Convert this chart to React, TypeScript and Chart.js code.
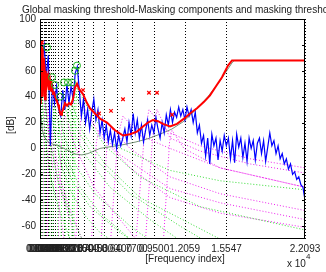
import React, { useEffect, useRef } from "react";
import { Chart, registerables } from "chart.js";
Chart.register(...registerables);

const X_MAX = 22093;
const Y_MIN = -70;
const Y_MAX = 100;
const X_TICKS = [0, 100, 200, 300, 400, 510, 630, 770, 920, 1080, 1270, 1480, 1720, 2000, 2320, 2700, 3150, 3700, 4400, 5300, 6400, 7700, 9500, 12059, 15547, 22093];
const Y_TICKS = [-60, -40, -20, 0, 20, 40, 60, 80, 100];

// spectrum (dB) at evenly spaced frequency bins 0..X_MAX
const BLUE_DB = [
  35, 70, 80, 55, 72, 2, 50, 35, 48, 30, 25, 45, 30, 50, 35, 48, 38, 58, 63, 45,
  25, 38, 20, 30, 15, 28, 38, 22, 30, 12, 22, 8, 18, 5, 14, 3, 12, 0, 10, 2, 8,
  15, 5, 20, 10, 27, 12, 22, 8, 18, 5, 14, 22, 10, 18, 12, 24, 15, 8, 20, 12, 26, 18, 30, 20,
  28, 24, 32, 25, 30, 22, 32, 25, 30, 20, 28, 12, 18, 4, 10, -6, 8, -12, 11, 2, 8, -9, 6, -2,
  10, 2, 8, -8, 6, -11, 11, 1, 8, -7, 4, -10, 8, 0, 6, -9, 4, 8, -4, 6, -10, 1, 12, 2, 6,
  -4, 2, -8, -4, -12, -8, -16, -12, -20, -18, -24, -22, -28, -30, -40,
];

// global masking threshold
const RED_FREQ = [0, 40, 83, 125, 167, 208, 250, 292, 333, 375, 417, 458, 500, 542, 584, 667, 750, 834, 917, 1000, 1084, 1167, 1251, 1334, 1417, 1501, 1584, 1667, 1751, 1834, 1918, 2084, 2251, 2418, 2584, 2751, 2918, 3085, 3252, 3585, 3919, 4169, 4585, 5002, 5586, 6253, 6920, 7503, 8087, 8587, 9004, 9421, 9838, 10254, 10838, 11422, 12006, 12506, 13089, 13673, 14173, 14673, 15173, 15673, 16007, 22093];
const RED_DB = [35, 60, 45, 82, 50, 78, 40, 70, 45, 65, 38, 60, 42, 58, 50, 55, 45, 52, 44, 48, 42, 44, 40, 38, 36, 34, 31, 28, 26, 28, 30, 35, 33, 35, 34, 38, 47, 50, 46, 42, 35, 31, 27, 23, 20, 14, 10, 11, 13, 17, 20, 22, 21, 19, 17, 19, 23, 27, 31, 36, 41, 48, 55, 64, 68, 68];

// absolute threshold of hearing
const ATH_FREQ = [86, 172, 344, 688, 1000, 1500, 2000, 2500, 3000, 3500, 4000, 5000, 6000, 7000, 8000, 9000, 10000, 11000, 12000, 13000, 14000, 15000, 16000, 16200, 22093];
const ATH_DB = [25, 15, 9, 5, 3.5, 2, 0, -2.5, -4.5, -5, -4, 0, 1.5, 3, 5, 7.5, 11, 15, 21, 30, 40, 52, 66, 68, 68];

// tonal maskers (o) and non-tonal maskers (x)
const TONAL_FREQ = [584, 1000, 1251, 1667, 2001, 2334, 2668, 2918, 3085];
const TONAL_DB = [78, 55, 49, 40, 51, 51, 51, 60, 64];
const NONTONAL_FREQ = [167, 3585, 4919, 5919, 6920, 9087, 9754, 11005];
const NONTONAL_DB = [82, 45, 27, 29, 38, 43, 43, 26];

// individual masking thresholds of tonal components [freq, dB]
const TONAL_CURVES = [
  [[0, -70], [83, 50], [167, 40], [417, 10], [834, -20], [1501, -45], [2500, -70]],
  [[150, -70], [250, 55], [417, 35], [834, 5], [1501, -25], [2500, -50], [3500, -70]],
  [[350, -70], [500, 45], [584, 58], [834, 35], [1251, 10], [1834, -15], [2668, -35], [3752, -52], [5002, -65], [5800, -70]],
  [[800, -70], [920, 25], [1000, 38], [1251, 20], [1834, -5], [2668, -25], [4169, -45], [6670, -65], [7500, -70]],
  [[1050, -70], [1180, 20], [1251, 32], [1667, 12], [2334, -10], [3335, -30], [5002, -50], [7503, -70]],
  [[1450, -70], [1600, 12], [1667, 22], [2168, 5], [3085, -15], [4585, -35], [7503, -60], [9000, -70]],
  [[1750, -70], [1920, 22], [2001, 34], [2668, 15], [3752, -5], [5836, -30], [9171, -55], [11500, -70]],
  [[2100, -70], [2260, 22], [2334, 34], [3085, 15], [4585, -8], [7503, -35], [11672, -60], [13500, -70]],
  [[2400, -70], [2590, 22], [2668, 34], [3585, 12], [5419, -12], [8337, -38], [13339, -62], [15000, -70]],
  [[2650, -70], [2850, 30], [2918, 43], [3752, 25], [5419, 2], [8337, -22], [13339, -45], [22093, -63]],
  [[2800, -70], [3000, 35], [3085, 47], [4169, 28], [6253, 2], [10838, -17], [15007, -25], [22093, -32]],
];

// individual masking thresholds of non-tonal components [freq, dB]
const NONTONAL_CURVES = [
  [[0, 60], [167, 68], [500, 30], [1000, -10], [1500, -40], [2000, -70]],
  [[250, -70], [350, 30], [417, 45], [834, 10], [1500, -25], [2334, -50], [3000, -70]],
  [[600, -70], [700, 25], [770, 30], [1100, 5], [1700, -25], [2600, -50], [3500, -70]],
  [[1500, -70], [1834, 20], [2100, 25], [3000, 0], [4500, -30], [6670, -55], [8000, -70]],
  [[3000, -70], [3400, 25], [3585, 33], [5002, 10], [7503, -15], [10838, -38], [15007, -50], [22093, -61]],
  [[4300, -70], [4700, 5], [4919, 14], [6670, -5], [10838, -31], [15007, -42], [22093, -55]],
  [[5100, -70], [5600, 5], [5919, 16], [7503, 0], [10838, -22], [15007, -35], [22093, -48]],
  [[5900, -70], [6500, 10], [6920, 25], [8337, 10], [10838, 0], [15007, -15], [22093, -30]],
  [[8000, -70], [8700, 10], [9087, 30], [9754, 22], [10838, 12], [13339, 2], [17508, -8], [22093, -15]],
  [[8800, -70], [9400, 10], [9754, 30], [10838, 8], [13339, -2], [17508, -12], [22093, -19]],
  [[10300, -70], [10800, 5], [11005, 14], [12000, 0], [15007, -15], [22093, -30]],
];

const TITLE = "Global masking threshold-Masking components and masking thresholds";
const X_LABEL = "[Frequency index]";
const Y_LABEL = "[dB]";
const FONT = "'Liberation Sans', Arial, sans-serif";

const xy = (xs: number[], ys: number[]) => xs.map((x, i) => ({ x, y: ys[i] }));
const pairs = (p: number[][]) => p.map(([x, y]) => ({ x, y }));

const decor = {
  id: "decor",
  beforeDraw(chart: any) {
    const { ctx, width, height } = chart;
    ctx.save();
    ctx.fillStyle = "#fff";
    ctx.fillRect(0, 0, width, height);
    ctx.restore();
  },
  beforeDatasetsDraw(chart: any) {
    const { ctx, chartArea: a, scales } = chart;
    ctx.save();
    ctx.strokeStyle = "#000";
    ctx.lineWidth = 1;
    ctx.setLineDash([1, 2]);
    for (const t of X_TICKS) {
      const px = Math.round(scales.x.getPixelForValue(t)) + 0.5;
      ctx.beginPath();
      ctx.moveTo(px, a.top);
      ctx.lineTo(px, a.bottom);
      ctx.stroke();
    }
    ctx.restore();
  },
  afterDatasetsDraw(chart: any) {
    const { ctx, chartArea: a, scales } = chart;
    ctx.save();
    ctx.strokeStyle = "#000";
    ctx.lineWidth = 1;
    ctx.strokeRect(Math.round(a.left) + 0.5, Math.round(a.top) + 0.5, Math.round(a.right - a.left) - 1, Math.round(a.bottom - a.top) - 1);
    for (const t of Y_TICKS) {
      const py = Math.round(scales.y.getPixelForValue(t)) + 0.5;
      ctx.beginPath();
      ctx.moveTo(a.left, py);
      ctx.lineTo(a.left + 3, py);
      ctx.moveTo(a.right, py);
      ctx.lineTo(a.right - 3, py);
      ctx.stroke();
    }
    ctx.fillStyle = "#222";
    ctx.font = `10px ${FONT}`;
    ctx.textBaseline = "alphabetic";
    ctx.textAlign = "left";
    ctx.fillText(TITLE, 22, 13);
    ctx.textAlign = "center";
    ctx.textBaseline = "middle";
    ctx.fillText(X_LABEL, 185, 259);
    ctx.textAlign = "left";
    ctx.fillText("x 10", 287, 264);
    ctx.font = `8px ${FONT}`;
    ctx.fillText("4", 306, 257);
    ctx.font = `10px ${FONT}`;
    ctx.translate(11, 125);
    ctx.rotate(-Math.PI / 2);
    ctx.textAlign = "center";
    ctx.fillText(Y_LABEL, 0, 0);
    ctx.restore();
  },
};

export default function App() {
  const ref = useRef<HTMLCanvasElement>(null);
  useEffect(() => {
    const blueX = BLUE_DB.map((_, i) => (i * X_MAX) / (BLUE_DB.length - 1));
    const datasets: any[] = [
      {
        data: xy(NONTONAL_FREQ, NONTONAL_DB),
        showLine: false,
        pointStyle: "crossRot",
        pointRadius: 2.5,
        borderColor: "#ff0000",
        borderWidth: 1.2,
        order: 0,
      },
      {
        data: xy(TONAL_FREQ, TONAL_DB),
        showLine: false,
        pointStyle: "circle",
        pointRadius: 3.5,
        borderColor: "#22bb22",
        backgroundColor: "rgba(0,0,0,0)",
        borderWidth: 1,
        order: 0,
      },
      { data: xy(RED_FREQ, RED_DB), showLine: true, borderColor: "#ff0000", borderWidth: 2, pointRadius: 0, order: 1 },
      { data: xy(blueX, BLUE_DB), showLine: true, borderColor: "#0000ff", borderWidth: 1.2, pointRadius: 0, order: 2 },
      { data: xy(ATH_FREQ, ATH_DB), showLine: true, borderColor: "#557755", borderWidth: 0.8, pointRadius: 0, order: 3 },
      ...TONAL_CURVES.map((c) => ({
        data: pairs(c),
        showLine: true,
        borderColor: "#33dd33",
        borderWidth: 1,
        borderDash: [1, 2],
        pointRadius: 0,
        order: 4,
      })),
      ...NONTONAL_CURVES.map((c) => ({
        data: pairs(c),
        showLine: true,
        borderColor: "#ee22ee",
        borderWidth: 1,
        borderDash: [1, 2],
        pointRadius: 0,
        order: 4,
      })),
    ];
    const chart = new Chart(ref.current!, {
      type: "scatter",
      data: { datasets },
      plugins: [decor],
      options: {
        animation: false,
        responsive: false,
        events: [],
        layout: { padding: { top: 19, right: 21, left: 0, bottom: 0 } },
        plugins: { legend: { display: false }, tooltip: { enabled: false }, title: { display: false } },
        scales: {
          x: {
            type: "linear",
            min: 0,
            max: X_MAX,
            grid: { display: false, drawTicks: false },
            border: { display: false },
            afterBuildTicks: (s: any) => {
              s.ticks = X_TICKS.map((v) => ({ value: v }));
            },
            afterFit: (s: any) => {
              s.height = 33;
            },
            ticks: {
              autoSkip: false,
              maxRotation: 0,
              minRotation: 0,
              padding: 4,
              color: "#222",
              font: { family: FONT, size: 10 },
              callback: (v: any) => (v === 0 ? "0" : (Number(v) / 10000).toFixed(4)),
            },
          },
          y: {
            type: "linear",
            min: Y_MIN,
            max: Y_MAX,
            grid: { display: false, drawTicks: false },
            border: { display: false },
            afterBuildTicks: (s: any) => {
              s.ticks = Y_TICKS.map((v) => ({ value: v }));
            },
            afterFit: (s: any) => {
              s.width = 40;
            },
            ticks: {
              padding: 4,
              color: "#222",
              font: { family: FONT, size: 10 },
            },
          },
        },
      },
    });
    return () => chart.destroy();
  }, []);
  return (
    <div style={{ position: "fixed", left: 0, top: 0, width: 326, height: 272, background: "#fff" }}>
      <canvas ref={ref} width={326} height={272} style={{ display: "block" }} />
    </div>
  );
}
